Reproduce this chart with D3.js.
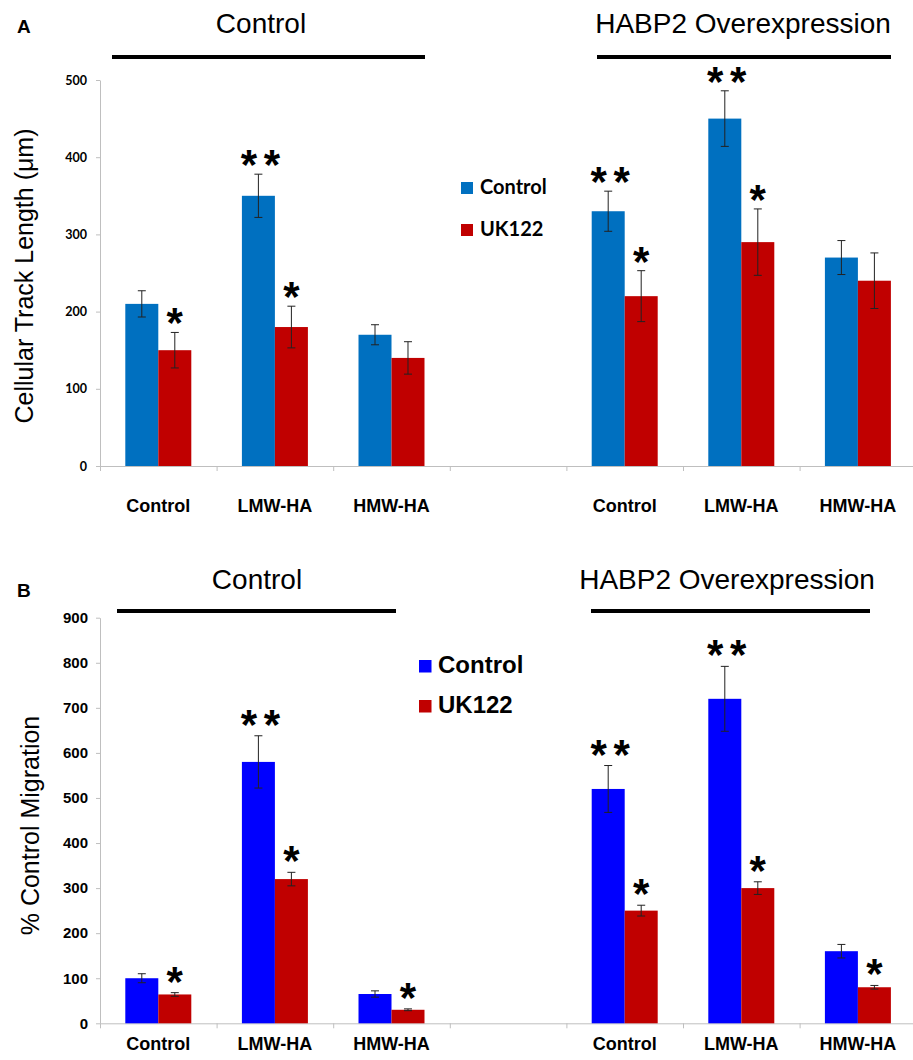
<!DOCTYPE html>
<html>
<head>
<meta charset="utf-8">
<script src="https://cdn.jsdelivr.net/npm/d3@7"></script>
<style>
  body { margin: 0; background: #fff; }
  svg { display: block; }
  text { font-family: "Liberation Sans", Arial, sans-serif; }
</style>
</head>
<body>
<svg id="chart" width="913" height="1060"></svg>
<script>
// ---------------- DATA ----------------
const slots = ["Control", "LMW-HA", "HMW-HA", "", "Control", "LMW-HA", "HMW-HA"];
const conditions = ["Control", "HABP2 Overexpression"];
const series = ["Control", "UK122"];

// Panel A: Cellular track length (µm), slots 0,1,2,4,5,6
const trackControl    = [210, 350, 170, 330, 450, 270];
const trackControlErr = [17, 28, 13, 26, 36, 22];
const trackUK122      = [150, 180, 140, 220, 290, 240];
const trackUK122Err   = [23, 27, 21, 33, 43, 36];
const trackTicks = [0, 100, 200, 300, 400, 500];
// significance marks: [group index, series index, number of stars]
const trackStars = [[0,1,1],[1,0,2],[1,1,1],[3,0,2],[3,1,1],[4,0,2],[4,1,1]];

// Panel B: % control migration
const migControl    = [100, 580, 65, 520, 720, 160];
const migControlErr = [10, 58, 7, 52, 72, 15];
const migUK122      = [64, 320, 30, 250, 300, 80];
const migUK122Err   = [4, 15, 2, 12, 14, 4];
const migTicks = [0, 100, 200, 300, 400, 500, 600, 700, 800, 900];
const migStars = [[0,1,1],[1,0,2],[1,1,1],[2,1,1],[3,0,2],[3,1,1],[4,0,2],[4,1,1],[5,1,1]];

const dataSlots = [0, 1, 2, 4, 5, 6];

// ---------------- DRAW ----------------
const svg = d3.select("#chart");
const FONT = '"Liberation Sans", Arial, sans-serif';
const LATO = 'Lato, "Liberation Sans", sans-serif';

function panel(cfg) {
  const g = svg.append("g");
  const x0 = d3.scaleBand().domain(d3.range(slots.length)).range([100, 916.2])
    .paddingInner(0.434).paddingOuter(0.217);
  const x1 = d3.scaleBand().domain(series).range([0, x0.bandwidth()]);
  const xs = d3.scaleLinear().domain([0, slots.length]).range([100, 916.2]);
  const y = d3.scaleLinear().domain([0, cfg.max]).range([cfg.y0, cfg.yTop]);

  // y axis
  const ya = g.append("g").attr("transform", "translate(100,0)")
    .call(d3.axisLeft(y).tickValues(cfg.ticks).tickSize(4).tickSizeOuter(0).tickPadding(cfg.tickPad));
  ya.select(".domain").attr("stroke", "#bfbfbf");
  ya.selectAll(".tick line").attr("stroke", "#bfbfbf");
  ya.selectAll(".tick text").attr("fill", "#000").style("font-family", cfg.tickFont)
    .style("font-size", cfg.tickSize + "px").style("font-weight", "bold");

  // x axis
  const xa = g.append("g").attr("transform", `translate(0,${cfg.y0})`)
    .call(d3.axisBottom(xs).tickValues(d3.range(slots.length + 1)).tickSize(5).tickSizeOuter(0).tickFormat(""));
  xa.select(".domain").attr("stroke", "#bfbfbf");
  xa.selectAll(".tick line").attr("stroke", "#bfbfbf");

  // category labels
  g.selectAll("text.cat").data(slots.map((s, i) => ({s, i})).filter(d => d.s))
    .join("text").attr("class", "cat")
    .attr("x", d => x0(d.i) + x0.bandwidth() / 2)
    .attr("y", cfg.catY)
    .attr("text-anchor", "middle")
    .style("font-size", "18px").style("font-weight", "bold")
    .text(d => d.s);

  // bars
  const vals = [cfg.c, cfg.u], errs = [cfg.ce, cfg.ue];
  const colors = [cfg.blue, cfg.red];
  const recs = [];
  dataSlots.forEach((slot, k) => {
    series.forEach((s, si) => {
      recs.push({slot, k, s, si, v: vals[si][k], e: errs[si][k]});
    });
  });
  g.selectAll("rect.bar").data(recs).join("rect").attr("class", "bar")
    .attr("x", d => x0(d.slot) + x1(d.s))
    .attr("width", x1.bandwidth())
    .attr("y", d => y(d.v))
    .attr("height", d => y(0) - y(d.v))
    .attr("fill", d => colors[d.si]);

  // error bars
  const eb = g.selectAll("g.err").data(recs).join("g").attr("class", "err")
    .attr("stroke", "#222").attr("stroke-width", 1);
  const cx = d => x0(d.slot) + x1(d.s) + x1.bandwidth() / 2;
  eb.append("line").attr("x1", cx).attr("x2", cx)
    .attr("y1", d => y(d.v + d.e)).attr("y2", d => y(d.v - d.e));
  eb.append("line").attr("x1", d => cx(d) - 4).attr("x2", d => cx(d) + 4)
    .attr("y1", d => y(d.v + d.e)).attr("y2", d => y(d.v + d.e));
  eb.append("line").attr("x1", d => cx(d) - 4).attr("x2", d => cx(d) + 4)
    .attr("y1", d => y(d.v - d.e)).attr("y2", d => y(d.v - d.e));

  // stars
  const starRecs = [];
  cfg.stars.forEach(([k, si, n]) => {
    const r = recs.find(d => d.k === k && d.si === si);
    const c = cx(r) + (n === 2 ? 2 : 0);
    const cy = y(r.v + r.e) - cfg.starGap;
    const offs = n === 2 ? [-11.5, 11.5] : [0];
    offs.forEach(o => starRecs.push({x: c + o, y: cy}));
  });
  g.selectAll("text.star").data(starRecs).join("text").attr("class", "star")
    .attr("x", d => d.x).attr("y", d => d.y + 24)
    .attr("text-anchor", "middle")
    .style("font-size", "42px").style("font-weight", "bold")
    .text("*");

  // headers
  cfg.headers.forEach((h, i) => {
    g.append("text").attr("x", h.tx).attr("y", cfg.headY).attr("text-anchor", "middle")
      .style("font-size", "28px").text(conditions[i]);
    g.append("line").attr("x1", h.l1).attr("x2", h.l2).attr("y1", cfg.lineY).attr("y2", cfg.lineY)
      .attr("stroke", "#000").attr("stroke-width", 4);
  });

  // panel letter
  g.append("text").attr("x", 17).attr("y", cfg.letterY).style("font-size", "19px")
    .style("font-weight", "bold").text(cfg.letter);

  // y title
  g.append("text").attr("transform", `translate(${cfg.titleX},${(cfg.y0 + cfg.yTop) / 2 + cfg.titleDy}) rotate(-90)`)
    .attr("text-anchor", "middle").style("font-size", "25px").text(cfg.title);

  // legend
  series.forEach((s, i) => {
    g.append("rect").attr("x", cfg.leg.x).attr("y", cfg.leg.y[i]).attr("width", cfg.leg.sq).attr("height", cfg.leg.sq)
      .attr("fill", colors[i]);
    g.append("text").attr("x", cfg.leg.tx).attr("y", cfg.leg.y[i] + cfg.leg.sq)
      .style("font-family", cfg.leg.font)
      .style("font-size", cfg.leg.fs + "px").style("font-weight", "bold").text(s);
  });
}

panel({
  letter: "A", letterY: 33,
  max: 500, y0: 466, yTop: 80, ticks: trackTicks,
  tickFont: LATO, tickSize: 12.5, tickPad: 9,
  c: trackControl, ce: trackControlErr, u: trackUK122, ue: trackUK122Err,
  blue: "#0070C0", red: "#C00000",
  stars: trackStars, starGap: 19,
  catY: 512,
  headY: 33, lineY: 57,
  headers: [{tx: 261, l1: 112, l2: 425}, {tx: 743, l1: 597, l2: 891}],
  title: "Cellular Track Length (\u03bcm)", titleX: 33, titleDy: 3,
  leg: {x: 461, y: [182, 224], sq: 12, tx: 480, fs: 20, font: LATO}
});

panel({
  letter: "B", letterY: 597,
  max: 900, y0: 1023.3, yTop: 617.7, ticks: migTicks,
  tickFont: FONT, tickSize: 15, tickPad: 8,
  c: migControl, ce: migControlErr, u: migUK122, ue: migUK122Err,
  blue: "#0000FF", red: "#C00000",
  stars: migStars, starGap: 21,
  catY: 1050,
  headY: 589, lineY: 611,
  headers: [{tx: 257, l1: 117, l2: 396}, {tx: 727, l1: 591, l2: 870}],
  title: "% Control Migration", titleX: 39, titleDy: 5,
  leg: {x: 419, y: [660, 700], sq: 12.5, tx: 438, fs: 24, font: FONT}
});
</script>
</body>
</html>
